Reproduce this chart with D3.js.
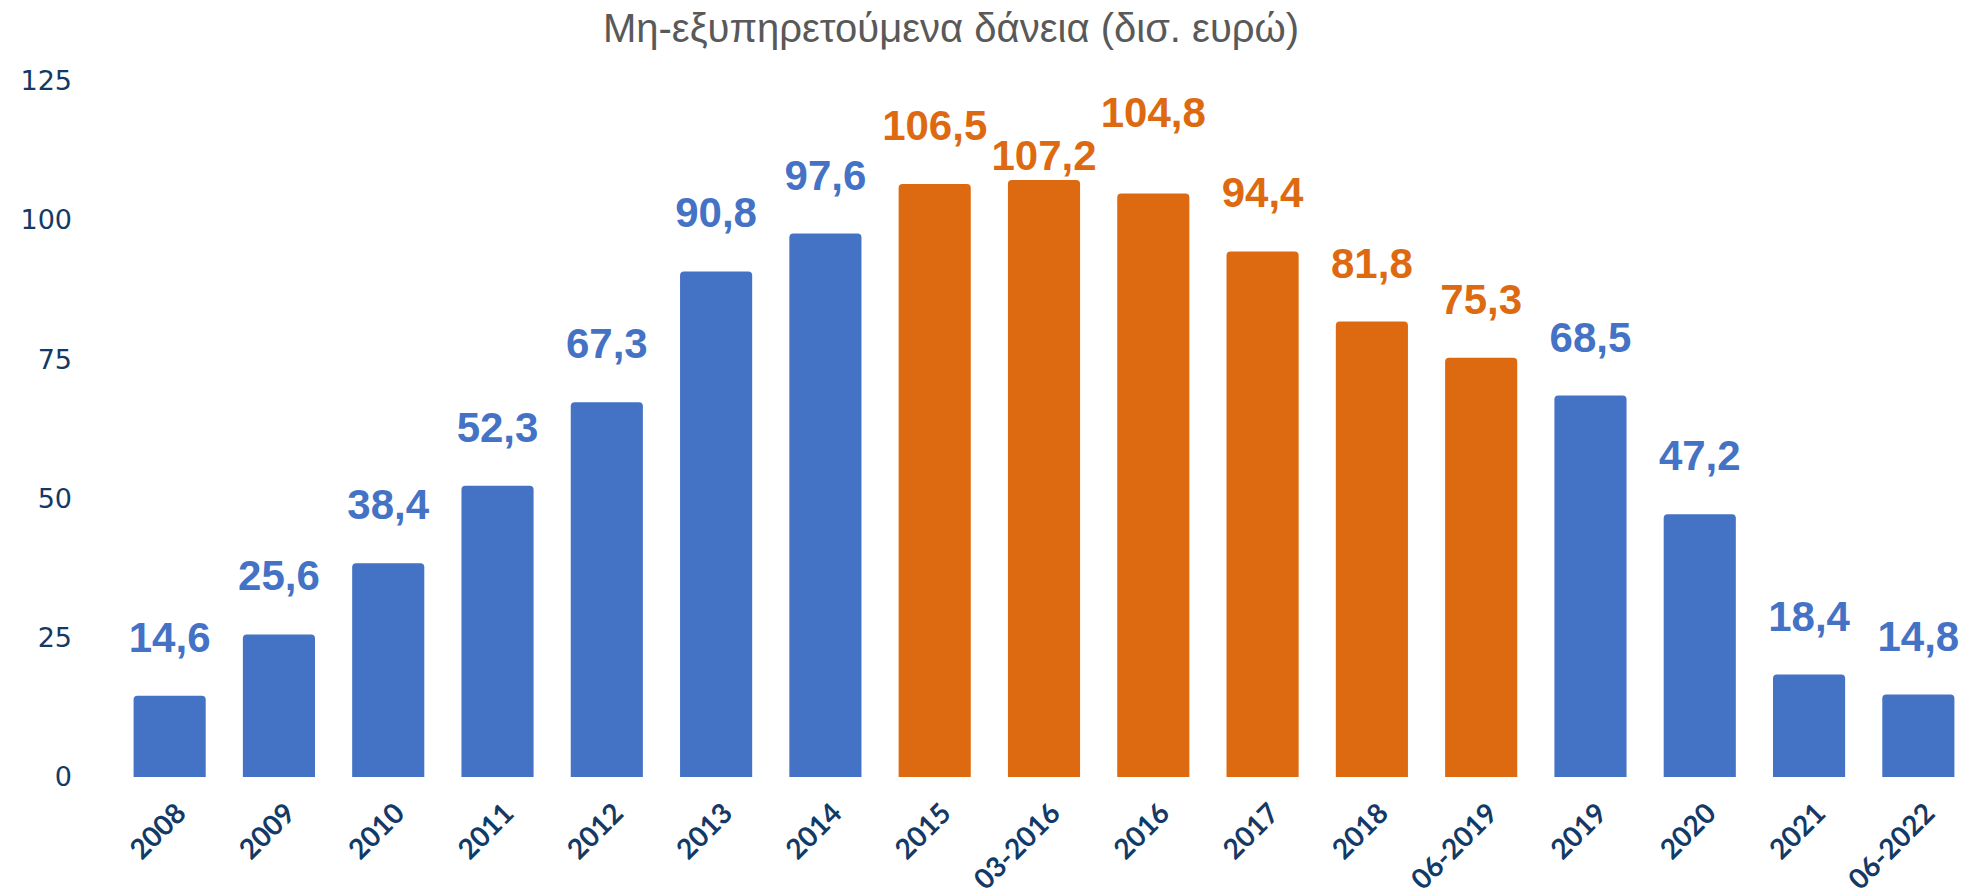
<!DOCTYPE html>
<html>
<head>
<meta charset="utf-8">
<script src="https://cdnjs.cloudflare.com/ajax/libs/d3/7.8.5/d3.min.js"></script>
<style>
  body { margin: 0; background: #fff; }
</style>
</head>
<body>
<script>
// categories and values (billion euro)
const periods = ["2008", "2009", "2010", "2011", "2012", "2013", "2014", "2015", "03-2016",
                 "2016", "2017", "2018", "06-2019", "2019", "2020", "2021", "06-2022"];
const npl = [14.6, 25.6, 38.4, 52.3, 67.3, 90.8, 97.6, 106.5, 107.2,
             104.8, 94.4, 81.8, 75.3, 68.5, 47.2, 18.4, 14.8];
// orange = peak years
const phase = ["low", "low", "low", "low", "low", "low", "low", "peak", "peak",
               "peak", "peak", "peak", "peak", "low", "low", "low", "low"];
const yTicks = [0, 25, 50, 75, 100, 125];
const title = "Μη-εξυπηρετούμενα δάνεια (δισ. ευρώ)";

const W = 1963, H = 896;
const baseY = 777, topY = 81;

const svg = d3.select("body")
  .append("svg")
  .attr("width", W)
  .attr("height", H)
  .style("background-color", "white");

let x = d3.scaleBand()
  .domain(periods)
  .range([115, 1973])
  .paddingInner(0.34)
  .paddingOuter(0.17);
let y = d3.scaleLinear()
  .domain([0, 125])
  .range([baseY, topY]);
let color = d3.scaleOrdinal()
  .domain(["low", "peak"])
  .range(["#4472C4", "#DD6A10"]);

const greek = d3.formatLocale({decimal: ",", thousands: ".", grouping: [3], currency: ["", "€"]});
const fmt = greek.format(".1f");

// title
svg.append("text")
  .attr("x", 951)
  .attr("y", 42)
  .attr("text-anchor", "middle")
  .style("font-family", "'Liberation Sans', Arial, sans-serif")
  .style("font-size", "40px")
  .style("fill", "#595959")
  .text(title);

// bars, rounded top corners
function barPath(x0, w, y0, y1, r) {
  return "M" + x0 + "," + y1 +
    "V" + (y0 + r) +
    "Q" + x0 + "," + y0 + " " + (x0 + r) + "," + y0 +
    "H" + (x0 + w - r) +
    "Q" + (x0 + w) + "," + y0 + " " + (x0 + w) + "," + (y0 + r) +
    "V" + y1 + "Z";
}

svg.append("g")
  .selectAll("path")
  .data(periods)
  .enter()
  .append("path")
  .attr("d", (d, i) => barPath(x(d), x.bandwidth(), y(npl[i]), y(0), 4))
  .attr("fill", (d, i) => color(phase[i]));

// data labels (two were moved by hand in the original)
const nudge = {"03-2016": 34, "2016": -22};
svg.append("g")
  .selectAll("text")
  .data(periods)
  .enter()
  .append("text")
  .attr("x", d => x(d) + x.bandwidth() / 2)
  .attr("y", (d, i) => y(npl[i]) - 44 + (nudge[d] || 0))
  .attr("text-anchor", "middle")
  .style("font-family", "'Liberation Sans', Arial, sans-serif")
  .style("font-weight", "bold")
  .style("font-size", "42px")
  .style("fill", (d, i) => color(phase[i]))
  .text((d, i) => fmt(npl[i]));

// y axis
let yAxis = d3.axisLeft(y).tickValues(yTicks).tickSize(0).tickPadding(2);
const gy = svg.append("g")
  .attr("transform", "translate(74,0)")
  .call(yAxis);
gy.select(".domain").remove();
gy.selectAll("text")
  .style("font-family", "'DejaVu Sans', Verdana, sans-serif")
  .style("font-size", "27px")
  .style("fill", "#133a66");

// x axis
let xAxis = d3.axisBottom(x).tickSize(0);
const gx = svg.append("g")
  .attr("transform", "translate(0," + baseY + ")")
  .call(xAxis);
gx.select(".domain").remove();
gx.selectAll("text")
  .attr("x", 0)
  .attr("y", 0)
  .attr("dy", "0.71em")
  .attr("text-anchor", "end")
  .attr("transform", "translate(4,24) rotate(-45)")
  .style("font-family", "Lato, 'Open Sans', sans-serif")
  .style("font-weight", "bold")
  .style("font-size", "28px")
  .style("fill", "#133a66");
</script>
</body>
</html>
